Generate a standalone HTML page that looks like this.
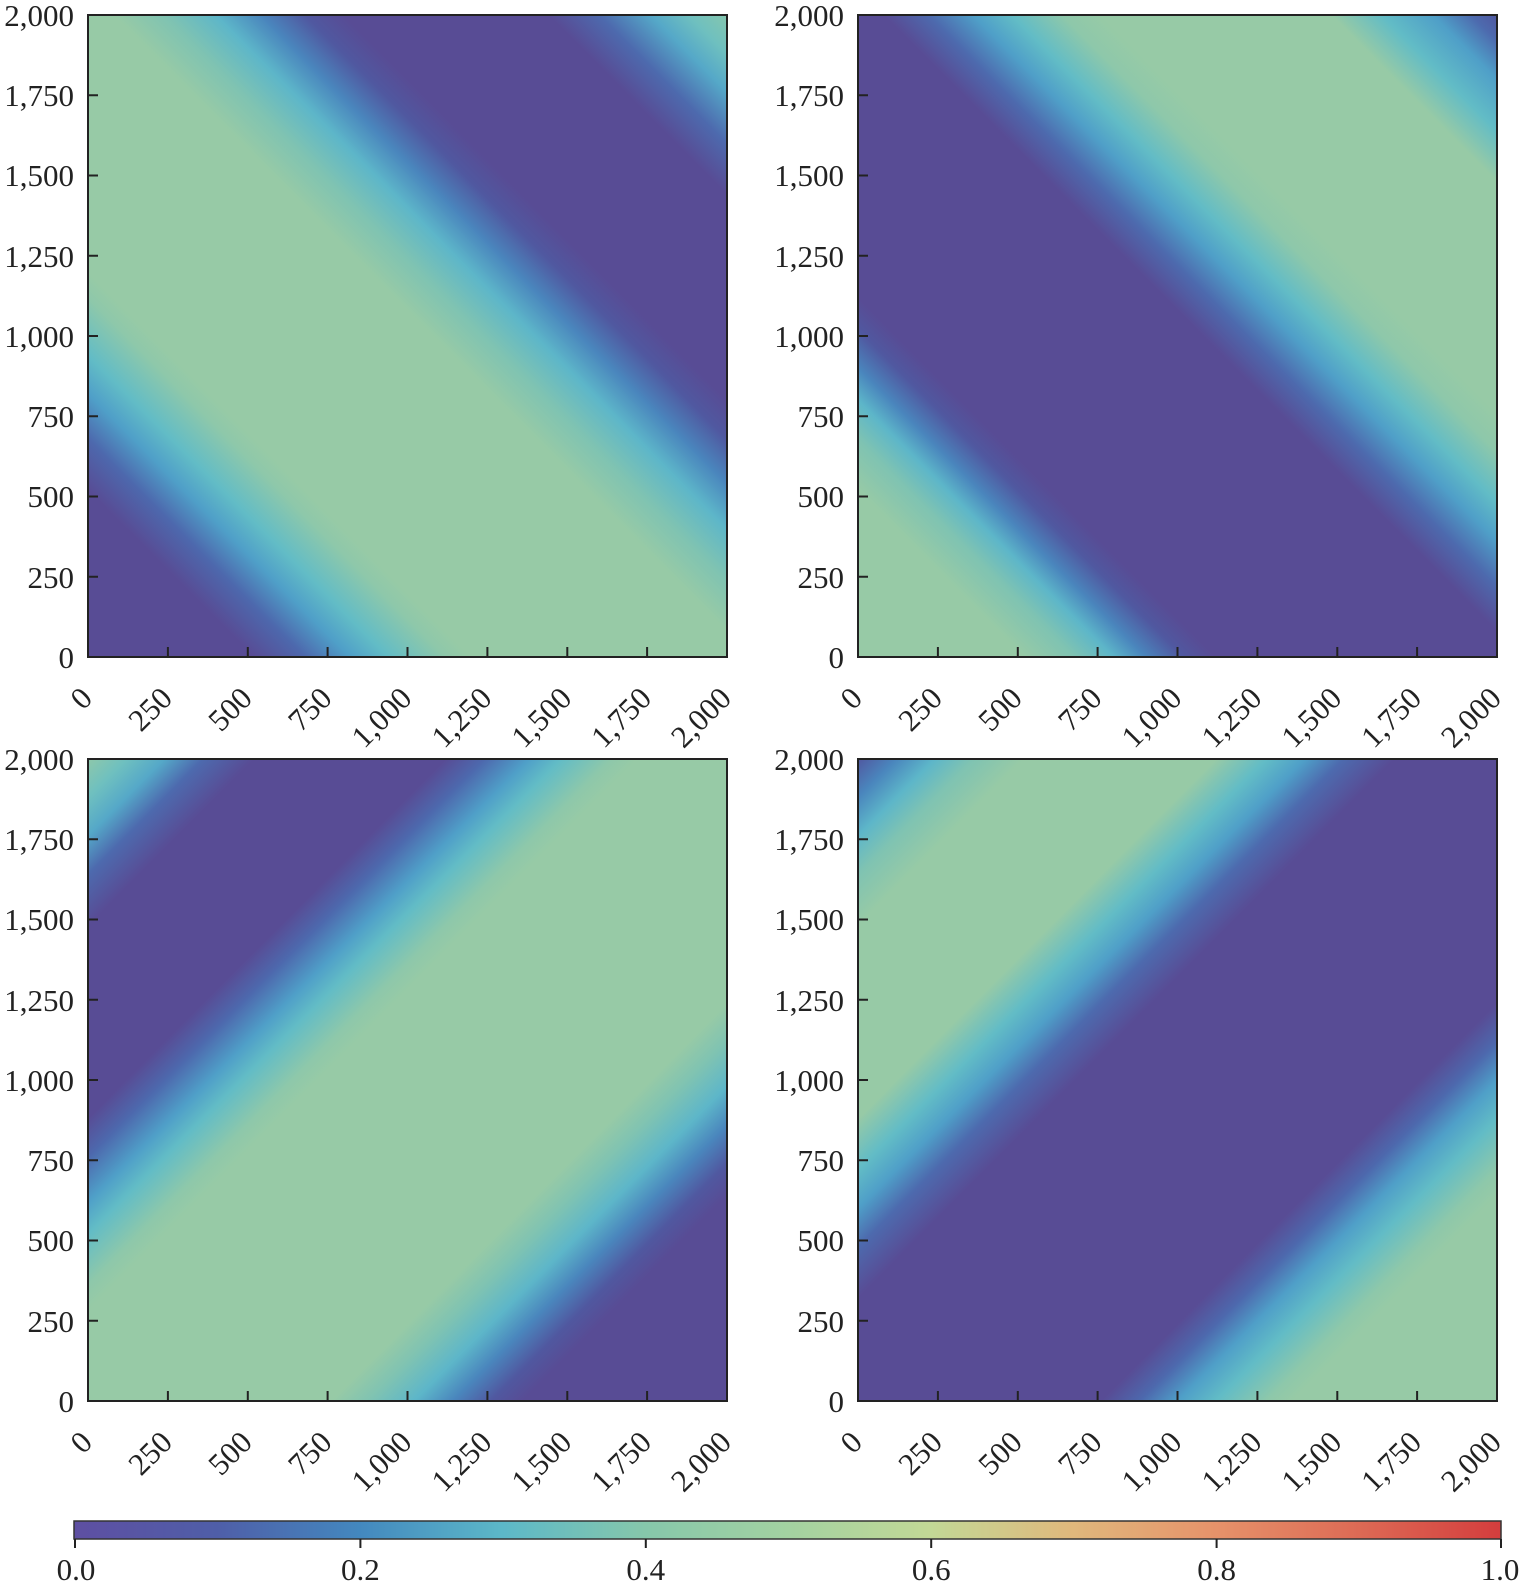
<!DOCTYPE html>
<html><head><meta charset="utf-8"><style>body{margin:0;background:#fff}svg{display:block}text{font-family:"Liberation Serif",serif;font-size:31px;fill:#222}</style></head><body>
<svg width="1524" height="1590" viewBox="0 0 1524 1590" xmlns="http://www.w3.org/2000/svg">
<defs>
<linearGradient id="g1" x1="0" y1="1" x2="1" y2="0">
<stop offset="0" stop-color="#584c95"/><stop offset="0.13" stop-color="#584c95"/><stop offset="0.17" stop-color="#4d68ad"/><stop offset="0.205" stop-color="#4f9fc8"/><stop offset="0.235" stop-color="#62bcc6"/><stop offset="0.28" stop-color="#8ec8aa"/><stop offset="0.30" stop-color="#97caa6"/><stop offset="0.52" stop-color="#97caa6"/><stop offset="0.56" stop-color="#7fc3b2"/><stop offset="0.60" stop-color="#5db6c9"/><stop offset="0.635" stop-color="#4a86bd"/><stop offset="0.67" stop-color="#5058a0"/><stop offset="0.70" stop-color="#584c95"/><stop offset="0.86" stop-color="#584c95"/><stop offset="0.90" stop-color="#4d6aae"/><stop offset="0.94" stop-color="#55a8c8"/><stop offset="0.97" stop-color="#6fc0bf"/><stop offset="1" stop-color="#85c6ae"/>
</linearGradient>
<linearGradient id="g2" x1="0" y1="1" x2="1" y2="0">
<stop offset="0" stop-color="#97caa6"/><stop offset="0.13" stop-color="#97caa6"/><stop offset="0.17" stop-color="#7fc3b2"/><stop offset="0.20" stop-color="#5db6c9"/><stop offset="0.225" stop-color="#4a86bd"/><stop offset="0.255" stop-color="#5058a0"/><stop offset="0.28" stop-color="#584c95"/><stop offset="0.52" stop-color="#584c95"/><stop offset="0.555" stop-color="#4d6aae"/><stop offset="0.59" stop-color="#4f9fc8"/><stop offset="0.62" stop-color="#62bcc6"/><stop offset="0.66" stop-color="#8ec8aa"/><stop offset="0.69" stop-color="#97caa6"/><stop offset="0.87" stop-color="#97caa6"/><stop offset="0.91" stop-color="#62bcc6"/><stop offset="0.95" stop-color="#4f9fc8"/><stop offset="0.98" stop-color="#4d6aae"/><stop offset="1" stop-color="#5058a0"/>
</linearGradient>
<linearGradient id="g3" x1="0" y1="0" x2="1" y2="1">
<stop offset="0" stop-color="#8ec8aa"/><stop offset="0.03" stop-color="#6fc0bf"/><stop offset="0.06" stop-color="#55a8c8"/><stop offset="0.09" stop-color="#4d6aae"/><stop offset="0.13" stop-color="#584c95"/><stop offset="0.28" stop-color="#584c95"/><stop offset="0.31" stop-color="#4d68ad"/><stop offset="0.345" stop-color="#4f9fc8"/><stop offset="0.37" stop-color="#62bcc6"/><stop offset="0.41" stop-color="#8ec8aa"/><stop offset="0.43" stop-color="#97caa6"/><stop offset="0.69" stop-color="#97caa6"/><stop offset="0.72" stop-color="#7fc3b2"/><stop offset="0.755" stop-color="#5db6c9"/><stop offset="0.785" stop-color="#4a86bd"/><stop offset="0.815" stop-color="#5058a0"/><stop offset="0.84" stop-color="#584c95"/><stop offset="1" stop-color="#584c95"/>
</linearGradient>
<linearGradient id="g4" x1="0" y1="0" x2="1" y2="1">
<stop offset="0" stop-color="#5058a0"/><stop offset="0.03" stop-color="#4a86bd"/><stop offset="0.06" stop-color="#5db6c9"/><stop offset="0.09" stop-color="#7fc3b2"/><stop offset="0.13" stop-color="#97caa6"/><stop offset="0.28" stop-color="#97caa6"/><stop offset="0.32" stop-color="#62bcc6"/><stop offset="0.35" stop-color="#4f9fc8"/><stop offset="0.38" stop-color="#4d6aae"/><stop offset="0.42" stop-color="#584c95"/><stop offset="0.69" stop-color="#584c95"/><stop offset="0.72" stop-color="#4d68ad"/><stop offset="0.75" stop-color="#4f9fc8"/><stop offset="0.78" stop-color="#62bcc6"/><stop offset="0.82" stop-color="#8ec8aa"/><stop offset="0.84" stop-color="#97caa6"/><stop offset="1" stop-color="#97caa6"/>
</linearGradient>
<linearGradient id="cb" x1="0" y1="0" x2="1" y2="0">
<stop offset="0" stop-color="#5e4fa2"/><stop offset="0.1" stop-color="#4f5ea8"/><stop offset="0.2" stop-color="#4388bf"/><stop offset="0.3" stop-color="#5cb8c8"/><stop offset="0.4" stop-color="#86c7ab"/><stop offset="0.5" stop-color="#a3d2a1"/><stop offset="0.6" stop-color="#c2d896"/><stop offset="0.7" stop-color="#e0b87c"/><stop offset="0.8" stop-color="#e6926a"/><stop offset="0.9" stop-color="#dd6a55"/><stop offset="1" stop-color="#d43d3d"/>
</linearGradient>
<g id="ticks" stroke="#222" stroke-width="2">
<path d="M79.9 642v-10M159.8 642v-10M239.6 642v-10M319.5 642v-10M399.4 642v-10M479.3 642v-10M559.1 642v-10"/>
<path d="M0 561.75h10M0 481.5h10M0 401.25h10M0 321h10M0 240.75h10M0 160.5h10M0 80.25h10"/>
</g>
</defs>

<g transform="translate(88,15)">
<rect width="639" height="642" fill="url(#g1)"/>
<use href="#ticks"/>
<rect width="639" height="642" fill="none" stroke="#222" stroke-width="2"/>
</g>
<g transform="translate(858,15)">
<rect width="639" height="642" fill="url(#g2)"/>
<use href="#ticks"/>
<rect width="639" height="642" fill="none" stroke="#222" stroke-width="2"/>
</g>
<g transform="translate(88,759)">
<rect width="639" height="642" fill="url(#g3)"/>
<use href="#ticks"/>
<rect width="639" height="642" fill="none" stroke="#222" stroke-width="2"/>
</g>
<g transform="translate(858,759)">
<rect width="639" height="642" fill="url(#g4)"/>
<use href="#ticks"/>
<rect width="639" height="642" fill="none" stroke="#222" stroke-width="2"/>
</g>

<g text-anchor="end">
<text x="74" y="26">2,000</text><text x="74" y="106">1,750</text><text x="74" y="186">1,500</text><text x="74" y="267">1,250</text><text x="74" y="347">1,000</text><text x="74" y="427">750</text><text x="74" y="507">500</text><text x="74" y="588">250</text><text x="74" y="668">0</text>
<text x="844" y="26">2,000</text><text x="844" y="106">1,750</text><text x="844" y="186">1,500</text><text x="844" y="267">1,250</text><text x="844" y="347">1,000</text><text x="844" y="427">750</text><text x="844" y="507">500</text><text x="844" y="588">250</text><text x="844" y="668">0</text>
<text x="74" y="770">2,000</text><text x="74" y="850">1,750</text><text x="74" y="930">1,500</text><text x="74" y="1011">1,250</text><text x="74" y="1091">1,000</text><text x="74" y="1171">750</text><text x="74" y="1251">500</text><text x="74" y="1332">250</text><text x="74" y="1412">0</text>
<text x="844" y="770">2,000</text><text x="844" y="850">1,750</text><text x="844" y="930">1,500</text><text x="844" y="1011">1,250</text><text x="844" y="1091">1,000</text><text x="844" y="1171">750</text><text x="844" y="1251">500</text><text x="844" y="1332">250</text><text x="844" y="1412">0</text>
</g>

<g text-anchor="end">
<g transform="translate(94,700)">
<text transform="rotate(-45)">0</text><text transform="translate(79.9,0) rotate(-45)">250</text><text transform="translate(159.8,0) rotate(-45)">500</text><text transform="translate(239.6,0) rotate(-45)">750</text><text transform="translate(319.5,0) rotate(-45)">1,000</text><text transform="translate(399.4,0) rotate(-45)">1,250</text><text transform="translate(479.3,0) rotate(-45)">1,500</text><text transform="translate(559.1,0) rotate(-45)">1,750</text><text transform="translate(639,0) rotate(-45)">2,000</text>
</g>
<g transform="translate(864,700)">
<text transform="rotate(-45)">0</text><text transform="translate(79.9,0) rotate(-45)">250</text><text transform="translate(159.8,0) rotate(-45)">500</text><text transform="translate(239.6,0) rotate(-45)">750</text><text transform="translate(319.5,0) rotate(-45)">1,000</text><text transform="translate(399.4,0) rotate(-45)">1,250</text><text transform="translate(479.3,0) rotate(-45)">1,500</text><text transform="translate(559.1,0) rotate(-45)">1,750</text><text transform="translate(639,0) rotate(-45)">2,000</text>
</g>
<g transform="translate(94,1444)">
<text transform="rotate(-45)">0</text><text transform="translate(79.9,0) rotate(-45)">250</text><text transform="translate(159.8,0) rotate(-45)">500</text><text transform="translate(239.6,0) rotate(-45)">750</text><text transform="translate(319.5,0) rotate(-45)">1,000</text><text transform="translate(399.4,0) rotate(-45)">1,250</text><text transform="translate(479.3,0) rotate(-45)">1,500</text><text transform="translate(559.1,0) rotate(-45)">1,750</text><text transform="translate(639,0) rotate(-45)">2,000</text>
</g>
<g transform="translate(864,1444)">
<text transform="rotate(-45)">0</text><text transform="translate(79.9,0) rotate(-45)">250</text><text transform="translate(159.8,0) rotate(-45)">500</text><text transform="translate(239.6,0) rotate(-45)">750</text><text transform="translate(319.5,0) rotate(-45)">1,000</text><text transform="translate(399.4,0) rotate(-45)">1,250</text><text transform="translate(479.3,0) rotate(-45)">1,500</text><text transform="translate(559.1,0) rotate(-45)">1,750</text><text transform="translate(639,0) rotate(-45)">2,000</text>
</g>
</g>

<rect x="74" y="1521" width="1427" height="18" fill="url(#cb)" stroke="#333" stroke-width="1.5"/>
<path d="M75 1539v9M360.4 1539v9M645.8 1539v9M931.2 1539v9M1216.6 1539v9M1501 1539v9" stroke="#222" stroke-width="2"/>
<g text-anchor="middle">
<text x="76" y="1580">0.0</text><text x="360.4" y="1580">0.2</text><text x="645.8" y="1580">0.4</text><text x="931.2" y="1580">0.6</text><text x="1216.6" y="1580">0.8</text><text x="1500" y="1580">1.0</text>
</g>
</svg>
</body></html>
